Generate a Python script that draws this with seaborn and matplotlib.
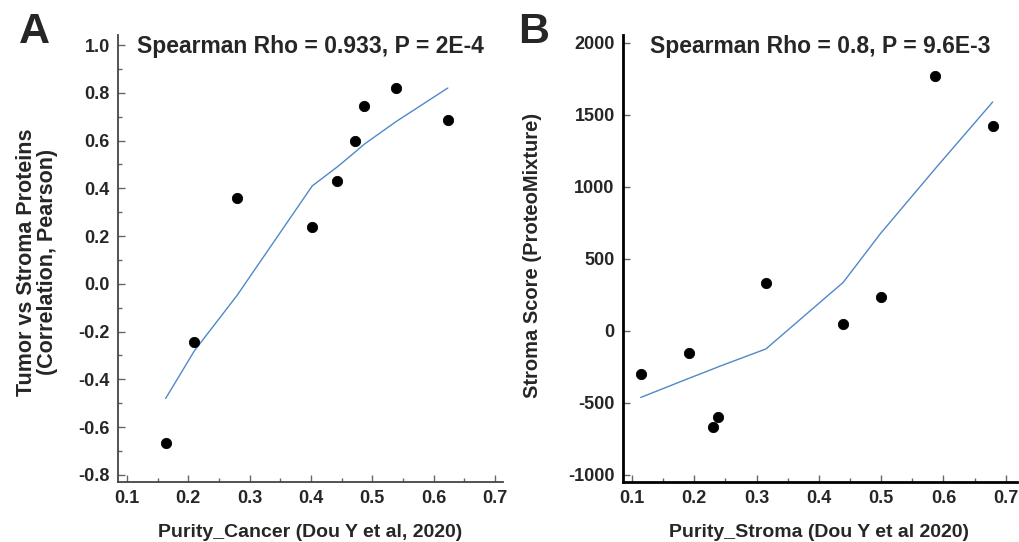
#libraries
import numpy as np
import pandas as pd
import matplotlib
matplotlib.use("Agg")
import matplotlib.pyplot as plt
from matplotlib.ticker import MultipleLocator, FormatStrFormatter
import seaborn as sns

#data
cancer_purity = [0.163, 0.210, 0.279, 0.402, 0.443, 0.471, 0.487, 0.539, 0.623]
tumor_stroma_corr = [-0.665, -0.245, 0.36, 0.24, 0.43, 0.60, 0.745, 0.82, 0.685]
fit_a = [-0.48, -0.28, -0.05, 0.41, 0.49, 0.55, 0.585, 0.68, 0.82]

stroma_purity = [0.114, 0.192, 0.230, 0.238, 0.315, 0.439, 0.499, 0.587, 0.679]
stroma_score = [-298, -155, -666, -601, 331, 46, 238, 1771, 1426]
fit_b = [-462, -328, -264, -250, -125, 337, 677, 1128, 1590]

x_ticks = [0.1, 0.2, 0.3, 0.4, 0.5, 0.6, 0.7]
title_a = "Spearman Rho = 0.933, P = 2E-4"
title_b = "Spearman Rho = 0.8, P = 9.6E-3"

data_a = pd.DataFrame({"x": cancer_purity, "y": tumor_stroma_corr, "fit": fit_a})
data_b = pd.DataFrame({"x": stroma_purity, "y": stroma_score, "fit": fit_b})

sns.set_style("ticks")
plt.rcParams['font.family'] = ['Liberation Sans', 'DejaVu Sans']
plt.rcParams['font.weight'] = 'bold'
plt.rcParams['axes.unicode_minus'] = False

W, H = 1019, 542
fig = plt.figure(figsize=(W / 100, H / 100), dpi=100)
ax_a = fig.add_axes([118 / W, 60 / H, 385 / W, 447 / H])
ax_b = fig.add_axes([623 / W, 60 / H, 394 / W, 447 / H])

line_col = "#5088c8"

#panel A
sns.lineplot(x="x", y="fit", data=data_a, ax=ax_a, color=line_col, linewidth=1.0, sort=False)
sns.scatterplot(x="x", y="y", data=data_a, ax=ax_a, color="black", s=55, edgecolor="black", zorder=3)
ax_a.set_xlim(0.0853, 0.713)
ax_a.set_ylim(-0.83, 1.042)
ax_a.yaxis.set_major_locator(MultipleLocator(0.2))
ax_a.yaxis.set_minor_locator(MultipleLocator(0.1))
ax_a.yaxis.set_major_formatter(FormatStrFormatter('%.1f'))

#panel B
sns.lineplot(x="x", y="fit", data=data_b, ax=ax_b, color=line_col, linewidth=1.0, sort=False)
sns.scatterplot(x="x", y="y", data=data_b, ax=ax_b, color="black", s=55, edgecolor="black", zorder=3)
ax_b.set_xlim(0.0856, 0.718)
ax_b.set_ylim(-1049, 2055)
ax_b.set_yticks([-1000, -500, 0, 500, 1000, 1500, 2000])

for ax, spine_col, spine_w in [(ax_a, "#444444", 1.3), (ax_b, "black", 2.0)]:
    ax.set_xticks(x_ticks)
    ax.xaxis.set_minor_locator(MultipleLocator(0.05))
    ax.xaxis.set_major_formatter(FormatStrFormatter('%.1f'))
    ax.set_xlabel("")
    ax.set_ylabel("")
    for side in ["top", "right"]:
        ax.spines[side].set_visible(False)
    for side in ["left", "bottom"]:
        ax.spines[side].set_color(spine_col)
        ax.spines[side].set_linewidth(spine_w)
    ax.tick_params(which="major", direction="in", length=5, width=1, color="#666666",
                   labelsize=13, pad=6)
    ax.tick_params(which="minor", direction="in", length=3, width=1, color="#666666")
    for lab in ax.get_xticklabels() + ax.get_yticklabels():
        lab.set_fontweight("bold")
ax_b.tick_params(axis="y", which="minor", length=0)

ax_a.text(0.5, 0.96, title_a, transform=ax_a.transAxes, ha="center", va="baseline",
          fontsize=16.5, fontweight="bold")
ax_b.text(0.5, 0.96, title_b, transform=ax_b.transAxes, ha="center", va="baseline",
          fontsize=16.5, fontweight="bold")

#axis labels and panel letters
fig.text(310 / W, 1 - 537 / H, "Purity_Cancer (Dou Y et al, 2020)", ha="center", va="baseline",
         fontsize=14, fontweight="bold")
fig.text(819 / W, 1 - 537 / H, "Purity_Stroma (Dou Y et al 2020)", ha="center", va="baseline",
         fontsize=14, fontweight="bold")
fig.text(37 / W, 1 - 262 / H, "Tumor vs Stroma Proteins\n(Correlation, Pearson)", rotation=90,
         ha="center", va="center", fontsize=15.5, fontweight="bold", linespacing=1.05)
fig.text(532 / W, 1 - 255 / H, "Stroma Score (ProteoMixture)", rotation=90,
         ha="center", va="center", fontsize=14.5, fontweight="bold")
fig.text(19 / W, 1 - 43 / H, "A", ha="left", va="baseline", fontsize=31, fontweight="bold")
fig.text(518 / W, 1 - 43 / H, "B", ha="left", va="baseline", fontsize=31, fontweight="bold")

fig.savefig("out.png", dpi=100)
